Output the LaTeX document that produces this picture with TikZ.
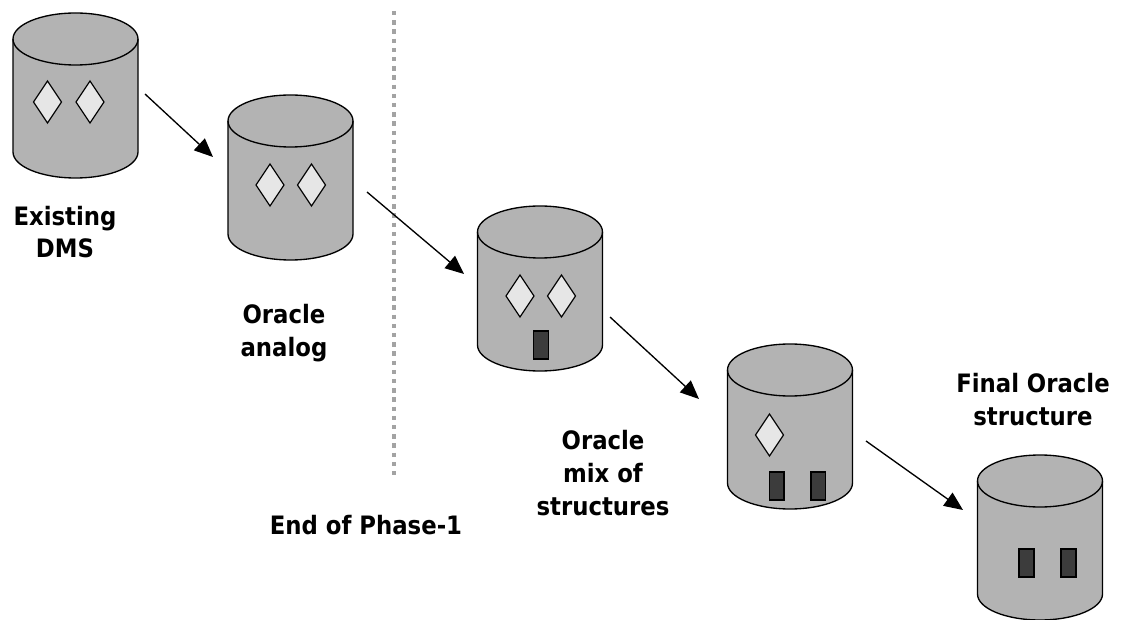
\documentclass[tikz,border=0pt]{standalone}
\usepackage{fontspec}
\usepackage{tikz}
\usetikzlibrary{arrows.meta}
\usepackage{xcolor}
\newfontfamily\capfont{DejaVu Sans Condensed}

\definecolor{cangray}{HTML}{B3B3B3}
\definecolor{gemgray}{HTML}{E6E6E6}
\definecolor{slabgray}{HTML}{3C3C3C}
\definecolor{phasegray}{HTML}{A3A3A3}

\begin{document}
\begin{tikzpicture}[x=0.75pt,y=0.75pt,yscale=-1,xscale=1,
    canbody/.style={draw=black, line width=1pt, fill=cangray},
    gem/.style={draw=black, line width=0.9pt, fill=gemgray},
    slab/.style={draw=black, line width=0.9pt, fill=slabgray},
    flow/.style={line width=1pt, -{Triangle[length=14pt,width=12pt]}},
    phaseline/.style={draw=phasegray, line width=3.2pt, dash pattern=on 3.3pt off 3.6pt},
    caption/.style={font=\capfont\bfseries\fontsize{19}{24.4}\selectfont, align=center, inner sep=0pt, anchor=base}]
    \path[use as bounding box] (0,0) rectangle (1121,620); %set diagram size to 1121 x 620

    %Shape: Can [id:can1]
    \draw[canbody] (13,39) -- (13,152) arc[start angle=180,end angle=0,x radius=62.5,y radius=26] -- (138,39) arc[start angle=0,end angle=-180,x radius=62.5,y radius=26] -- cycle ;
    \draw[line width=1pt] (13,39) arc[start angle=180,end angle=0,x radius=62.5,y radius=26] ;
    %Shape: Diamond [id:gem1a]
    \draw[gem] (47.5,81) -- (61.5,102) -- (47.5,123) -- (33.5,102) -- cycle ;
    %Shape: Diamond [id:gem1b]
    \draw[gem] (90,81) -- (104,102) -- (90,123) -- (76,102) -- cycle ;

    %Shape: Can [id:can2]
    \draw[canbody] (228,121) -- (228,234) arc[start angle=180,end angle=0,x radius=62.5,y radius=26] -- (353,121) arc[start angle=0,end angle=-180,x radius=62.5,y radius=26] -- cycle ;
    \draw[line width=1pt] (228,121) arc[start angle=180,end angle=0,x radius=62.5,y radius=26] ;
    %Shape: Diamond [id:gem2a]
    \draw[gem] (270,164) -- (284,185) -- (270,206) -- (256,185) -- cycle ;
    %Shape: Diamond [id:gem2b]
    \draw[gem] (311.5,164) -- (325.5,185) -- (311.5,206) -- (297.5,185) -- cycle ;

    %Shape: Can [id:can3]
    \draw[canbody] (477.5,232) -- (477.5,345) arc[start angle=180,end angle=0,x radius=62.5,y radius=26] -- (602.5,232) arc[start angle=0,end angle=-180,x radius=62.5,y radius=26] -- cycle ;
    \draw[line width=1pt] (477.5,232) arc[start angle=180,end angle=0,x radius=62.5,y radius=26] ;
    %Shape: Diamond [id:gem3a]
    \draw[gem] (520,275) -- (534,296) -- (520,317) -- (506,296) -- cycle ;
    %Shape: Diamond [id:gem3b]
    \draw[gem] (561.5,275) -- (575.5,296) -- (561.5,317) -- (547.5,296) -- cycle ;
    %Shape: Rectangle [id:slab3a]
    \draw[slab] (533.5,331) rectangle (548.5,359) ;

    %Shape: Can [id:can4]
    \draw[canbody] (727.5,370) -- (727.5,483) arc[start angle=180,end angle=0,x radius=62.5,y radius=26] -- (852.5,370) arc[start angle=0,end angle=-180,x radius=62.5,y radius=26] -- cycle ;
    \draw[line width=1pt] (727.5,370) arc[start angle=180,end angle=0,x radius=62.5,y radius=26] ;
    %Shape: Diamond [id:gem4a]
    \draw[gem] (769.5,414) -- (783.5,435) -- (769.5,456) -- (755.5,435) -- cycle ;
    %Shape: Rectangle [id:slab4a]
    \draw[slab] (769.5,472) rectangle (784,500) ;
    %Shape: Rectangle [id:slab4b]
    \draw[slab] (811,472) rectangle (825.5,500) ;

    %Shape: Can [id:can5]
    \draw[canbody] (977.5,481) -- (977.5,594) arc[start angle=180,end angle=0,x radius=62.5,y radius=26] -- (1102.5,481) arc[start angle=0,end angle=-180,x radius=62.5,y radius=26] -- cycle ;
    \draw[line width=1pt] (977.5,481) arc[start angle=180,end angle=0,x radius=62.5,y radius=26] ;
    %Shape: Rectangle [id:slab5a]
    \draw[slab] (1019,549) rectangle (1034,577) ;
    %Shape: Rectangle [id:slab5b]
    \draw[slab] (1061,549) rectangle (1076,577) ;

    %Straight Lines [id:phase]
    \coordinate (phasetop) at (394,11) ;
    \coordinate (phasebot) at (394,478) ;
    \draw[phaseline] (phasetop) -- (phasebot) ;

    %Straight Lines [id:flows]
    \coordinate (flow1s) at (145,94) ;
    \coordinate (flow1e) at (213,157) ;
    \coordinate (flow2s) at (367,192) ;
    \coordinate (flow2e) at (464,274) ;
    \coordinate (flow3s) at (610,317) ;
    \coordinate (flow3e) at (699,399) ;
    \coordinate (flow4s) at (866,441) ;
    \coordinate (flow4e) at (963,510) ;
    \draw[flow] (flow1s) -- (flow1e) ;
    \draw[flow] (flow2s) -- (flow2e) ;
    \draw[flow] (flow3s) -- (flow3e) ;
    \draw[flow] (flow4s) -- (flow4e) ;

    % Text Node (base is the last line)
    \node[caption] (existing) at (65,258) {Existing\\DMS};
    % Text Node
    \node[caption] (analog) at (284,356.5) {Oracle\\analog};
    % Text Node
    \node[caption] (phaseend) at (366,534) {End of Phase-1};
    % Text Node
    \node[caption] (mixed) at (603,515) {Oracle\\mix of\\structures};
    % Text Node
    \node[caption] (final) at (1033,425) {Final Oracle\\structure};

\end{tikzpicture}
\end{document}
